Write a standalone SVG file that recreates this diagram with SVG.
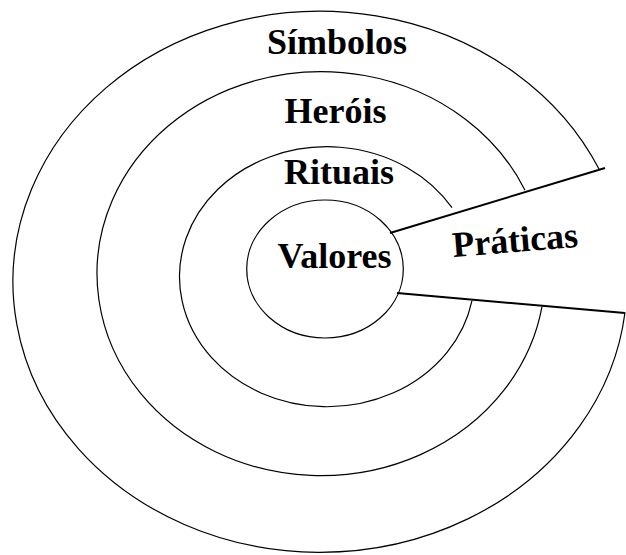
<svg xmlns="http://www.w3.org/2000/svg" width="626" height="555" viewBox="0 0 626 555">
  <style>
    .ring { fill: none; stroke: #000; stroke-width: 1.2; }
    .edge { fill: none; stroke: #000; stroke-width: 2; }
    .lbl { font-family: "Liberation Serif", "Times New Roman", serif; font-weight: bold; font-size: 36px; fill: #000; text-anchor: middle; }
  </style>
  <rect x="0" y="0" width="626" height="555" fill="#fff"/>
  <g id="simbolos">
    <path class="ring" d="M 599 169 A 307 270.5 0 1 0 625 312.5"/>
    <text class="lbl" x="337" y="54">Símbolos</text>
  </g>
  <g id="herois">
    <path class="ring" d="M 525 190.2 A 224 202 0 1 0 542 306.7"/>
    <text class="lbl" x="335.5" y="123">Heróis</text>
  </g>
  <g id="rituais">
    <path class="ring" d="M 452 207.7 A 147.5 130 0 1 0 472 300.6"/>
    <text class="lbl" x="339" y="184">Rituais</text>
  </g>
  <g id="valores">
    <ellipse class="ring" cx="325" cy="269" rx="78.3" ry="69"/>
    <text class="lbl" x="334.5" y="268">Valores</text>
  </g>
  <g id="praticas">
    <text class="lbl" x="516" y="252" transform="rotate(-4.6 516 252)">Práticas</text>
  </g>
  <g id="connectors">
    <line class="edge" x1="390" y1="233" x2="605" y2="168"/>
    <line class="edge" x1="397" y1="293" x2="625" y2="313"/>
  </g>
</svg>
